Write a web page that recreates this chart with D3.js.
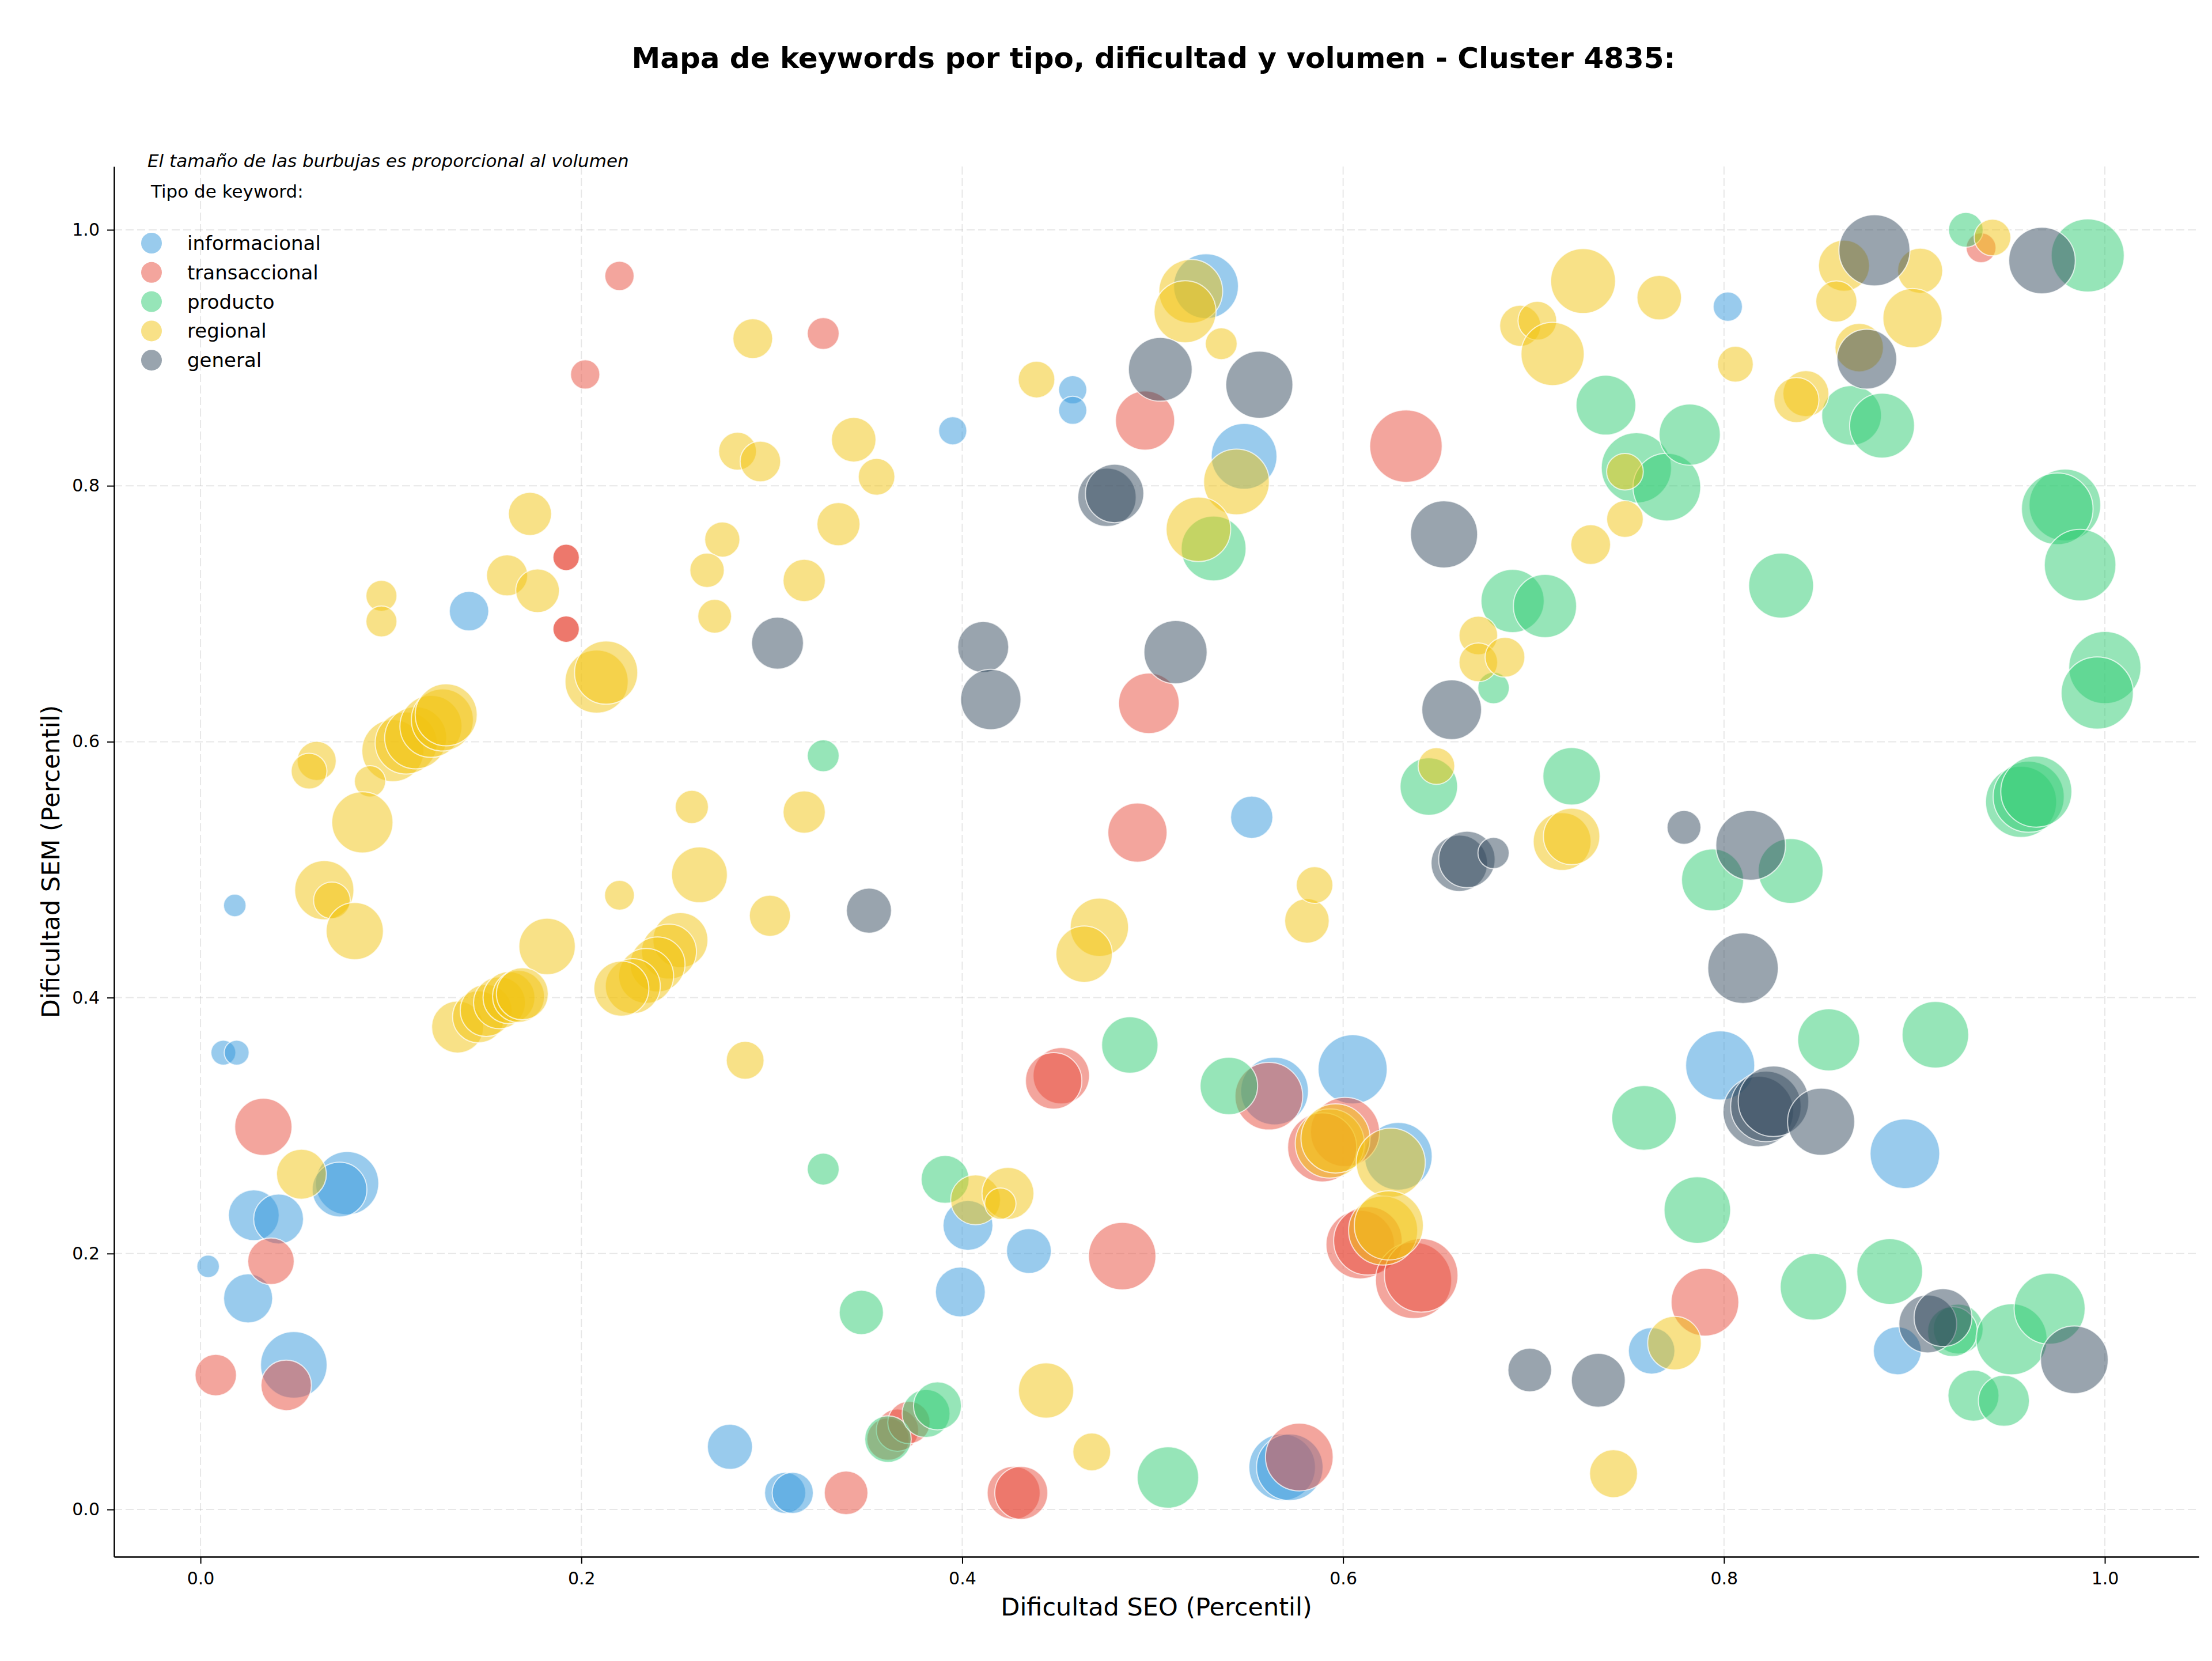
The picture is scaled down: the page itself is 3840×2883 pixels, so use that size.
<!DOCTYPE html>
<html>
<head>
<meta charset="utf-8">
<script src="https://cdn.jsdelivr.net/npm/d3@7"></script>
<style>
  html, body { margin: 0; padding: 0; background: #ffffff; }
  svg { display: block; }
  text { font-family: "DejaVu Sans", sans-serif; fill: #000; }
</style>
</head>
<body>
<script>
// ---------------- DATA ----------------
const chartTitle = "Mapa de keywords por tipo, dificultad y volumen - Cluster 4835:";
const xLabel = "Dificultad SEO (Percentil)";
const yLabel = "Dificultad SEM (Percentil)";
const noteText = "El tamaño de las burbujas es proporcional al volumen";
const legendTitle = "Tipo de keyword:";
const categories = ["informacional", "transaccional", "producto", "regional", "general"];
const categoryColors = ["#3498db", "#e74c3c", "#2ecc71", "#f1c40f", "#34495e"];
const xTicks = [0.0, 0.2, 0.4, 0.6, 0.8, 1.0];
const yTicks = [0.0, 0.2, 0.4, 0.6, 0.8, 1.0];

// [dificultad SEO, dificultad SEM, volumen]
const informacional = [
  [0.004,0.190,64],[0.018,0.472,64],[0.012,0.357,78],[0.019,0.357,78],
  [0.028,0.230,324],[0.041,0.227,313],[0.025,0.165,303],[0.049,0.113,557],
  [0.077,0.255,502],[0.073,0.250,376],[0.141,0.702,196],[0.395,0.843,100],
  [0.458,0.875,100],[0.458,0.859,100],[0.528,0.956,529],[0.548,0.823,543],
  [0.552,0.541,225],[0.278,0.049,256],[0.307,0.013,213],[0.311,0.013,213],
  [0.403,0.222,313],[0.435,0.202,253],[0.399,0.170,313],[0.568,0.033,557],
  [0.572,0.033,557],[0.605,0.344,600],[0.564,0.327,576],[0.629,0.276,576],
  [0.798,0.347,600],[0.895,0.278,610],[0.891,0.124,289],[0.762,0.124,272],
  [0.802,0.940,108]
];
const transaccional = [
  [0.220,0.964,108],[0.202,0.887,108],[0.192,0.744,88],[0.192,0.744,88],
  [0.192,0.688,88],[0.192,0.688,88],[0.327,0.919,128],[0.496,0.851,441],
  [0.498,0.630,462],[0.492,0.529,441],[0.633,0.831,660],[0.033,0.299,412],
  [0.037,0.194,272],[0.008,0.105,216],[0.045,0.097,320],[0.452,0.339,400],
  [0.448,0.335,400],[0.484,0.198,571],[0.339,0.013,240],[0.427,0.013,353],
  [0.431,0.013,353],[0.361,0.055,225],[0.366,0.062,225],[0.372,0.068,225],
  [0.561,0.323,576],[0.577,0.041,576],[0.601,0.295,600],[0.589,0.283,600],
  [0.609,0.207,590],[0.613,0.210,590],[0.637,0.179,730],[0.641,0.183,680],
  [0.790,0.162,576],[0.935,0.986,112]
];
const producto = [
  [0.327,0.589,128],[0.327,0.266,128],[0.347,0.154,246],[0.391,0.258,289],
  [0.488,0.363,400],[0.508,0.025,475],[0.540,0.331,416],[0.532,0.751,529],
  [0.679,0.642,125],[0.645,0.565,416],[0.720,0.573,416],[0.689,0.710,502],
  [0.706,0.706,502],[0.738,0.863,449],[0.754,0.814,620],[0.770,0.799,576],
  [0.782,0.840,471],[0.830,0.722,529],[0.867,0.855,449],[0.883,0.847,529],
  [0.927,1.000,151],[0.991,0.980,671],[0.979,0.785,645],[0.975,0.782,645],
  [0.987,0.738,645],[1.000,0.658,655],[0.996,0.638,655],[0.956,0.553,635],
  [0.960,0.557,635],[0.964,0.561,635],[0.794,0.492,484],[0.835,0.499,529],
  [0.855,0.367,484],[0.911,0.371,557],[0.758,0.306,524],[0.786,0.234,557],
  [0.847,0.174,557],[0.887,0.186,543],[0.923,0.141,313],[0.920,0.139,313],
  [0.951,0.133,635],[0.971,0.157,635],[0.931,0.089,328],[0.947,0.085,328],
  [0.361,0.055,272],[0.381,0.075,289],[0.387,0.081,289]
];
const regional = [
  [0.173,0.778,234],[0.095,0.714,121],[0.095,0.694,121],[0.161,0.730,213],
  [0.177,0.718,240],[0.208,0.647,502],[0.213,0.654,502],
  [0.101,0.593,484],[0.108,0.599,484],[0.113,0.603,484],[0.121,0.612,484],
  [0.127,0.617,484],[0.129,0.621,484],
  [0.061,0.585,193],[0.057,0.577,161],[0.089,0.569,123],[0.085,0.537,471],
  [0.065,0.484,441],[0.069,0.476,169],[0.081,0.452,412],[0.220,0.480,112],
  [0.182,0.440,400],
  [0.135,0.377,339],[0.146,0.385,339],[0.150,0.390,339],[0.157,0.396,339],
  [0.162,0.400,339],[0.167,0.401,339],[0.169,0.403,339],
  [0.252,0.445,380],[0.246,0.436,380],[0.240,0.426,380],[0.234,0.417,380],
  [0.227,0.409,380],[0.221,0.407,380],
  [0.262,0.496,392],[0.299,0.464,213],[0.286,0.351,180],[0.407,0.242,313],
  [0.424,0.247,339],[0.420,0.239,123],[0.444,0.093,384],[0.468,0.045,180],
  [0.472,0.455,428],[0.464,0.434,400],[0.290,0.915,199],[0.282,0.827,180],
  [0.294,0.819,207],[0.343,0.836,250],[0.355,0.807,169],[0.335,0.770,234],
  [0.274,0.758,156],[0.266,0.734,149],[0.317,0.726,225],[0.270,0.698,144],
  [0.258,0.549,139],[0.317,0.545,225],[0.439,0.883,169],[0.520,0.952,511],
  [0.517,0.936,484],[0.536,0.911,128],[0.544,0.803,543],[0.524,0.766,524],
  [0.726,0.960,529],[0.766,0.947,250],[0.693,0.925,213],[0.702,0.929,188],
  [0.710,0.903,502],[0.748,0.811,169],[0.748,0.774,169],[0.730,0.754,199],
  [0.671,0.683,188],[0.671,0.662,188],[0.685,0.666,199],[0.649,0.581,169],
  [0.715,0.522,420],[0.720,0.526,400],[0.863,0.972,328],[0.903,0.968,256],
  [0.859,0.944,213],[0.899,0.931,441],[0.871,0.908,296],[0.806,0.895,161],
  [0.843,0.872,266],[0.838,0.867,256],[0.941,0.994,169],[0.774,0.130,361],
  [0.742,0.028,289],[0.581,0.460,250],[0.585,0.488,169],[0.053,0.262,313],
  [0.593,0.286,600],[0.596,0.290,600],[0.625,0.271,600],[0.621,0.218,600],
  [0.624,0.222,600]
];
const general = [
  [0.303,0.677,339],[0.411,0.674,328],[0.415,0.633,458],[0.476,0.791,428],
  [0.480,0.794,428],[0.504,0.891,511],[0.556,0.879,566],[0.653,0.762,566],
  [0.512,0.670,502],[0.657,0.625,449],[0.661,0.505,400],[0.665,0.508,400],
  [0.679,0.513,123],[0.779,0.533,144],[0.814,0.519,610],[0.879,0.984,635],
  [0.875,0.899,449],[0.967,0.976,557],[0.810,0.423,625],[0.818,0.311,625],
  [0.822,0.315,625],[0.826,0.319,625],[0.851,0.303,566],[0.907,0.145,420],
  [0.915,0.150,420],[0.984,0.117,576],[0.698,0.109,240],[0.734,0.101,365],
  [0.351,0.468,256]
];
const seriesData = [informacional, transaccional, producto, regional, general];

// ---------------- LAYOUT ----------------
const W = 3840, H = 2883;
const plot = { left: 198, right: 3817, top: 289, bottom: 2702 };

const svg = d3.select("body").append("svg")
  .attr("width", W).attr("height", H)
  .attr("viewBox", `0 0 ${W} ${H}`);
svg.append("rect").attr("width", W).attr("height", H).attr("fill", "#ffffff");

const x = d3.scaleLinear().domain([-0.0454, 1.0493]).range([plot.left, plot.right]);
const y = d3.scaleLinear().domain([-0.0369, 1.0495]).range([plot.bottom, plot.top]);
const r = d3.scaleSqrt().domain([0, 1000]).range([0, 77.4]);
const color = d3.scaleOrdinal().domain(categories).range(categoryColors);

// grid
const grid = svg.append("g").attr("class", "grid");
grid.selectAll("line.vx").data(xTicks).join("line")
  .attr("x1", d => x(d)).attr("x2", d => x(d))
  .attr("y1", plot.top).attr("y2", plot.bottom)
  .attr("stroke", "#b0b0b0").attr("stroke-opacity", 0.3)
  .attr("stroke-width", 2).attr("stroke-dasharray", "14,6");
grid.selectAll("line.hy").data(yTicks).join("line")
  .attr("x1", plot.left).attr("x2", plot.right)
  .attr("y1", d => y(d)).attr("y2", d => y(d))
  .attr("stroke", "#b0b0b0").attr("stroke-opacity", 0.3)
  .attr("stroke-width", 2).attr("stroke-dasharray", "14,6");

// bubbles
const bubbles = svg.append("g").attr("class", "bubbles");
seriesData.forEach((arr, i) => {
  bubbles.append("g").selectAll("circle").data(arr).join("circle")
    .attr("cx", d => x(d[0]))
    .attr("cy", d => y(d[1]))
    .attr("r", d => r(d[2]))
    .attr("fill", color(categories[i]))
    .attr("fill-opacity", 0.5)
    .attr("stroke", "#ffffff")
    .attr("stroke-opacity", 0.7)
    .attr("stroke-width", 2);
});

// axes
const xAxis = svg.append("g")
  .attr("transform", `translate(0,${plot.bottom})`)
  .call(d3.axisBottom(x).tickValues(xTicks).tickFormat(d3.format(".1f"))
        .tickSize(12).tickSizeOuter(0).tickPadding(15));
const yAxis = svg.append("g")
  .attr("transform", `translate(${plot.left},0)`)
  .call(d3.axisLeft(y).tickValues(yTicks).tickFormat(d3.format(".1f"))
        .tickSize(12).tickSizeOuter(0).tickPadding(13));
[xAxis, yAxis].forEach(a => {
  a.select(".domain").attr("stroke", "#000").attr("stroke-width", 2.5);
  a.selectAll(".tick line").attr("stroke", "#000").attr("stroke-width", 2);
  a.selectAll(".tick text").attr("font-size", 30)
    .attr("font-family", "DejaVu Sans").attr("fill", "#000");
});

// axis labels
svg.append("text")
  .attr("x", (plot.left + plot.right) / 2).attr("y", 2804)
  .attr("text-anchor", "middle").attr("font-size", 43)
  .text(xLabel);
svg.append("text")
  .attr("transform", `translate(103,${(plot.top + plot.bottom) / 2}) rotate(-90)`)
  .attr("text-anchor", "middle").attr("font-size", 43)
  .text(yLabel);

// title
svg.append("text")
  .attr("x", (plot.left + plot.right) / 2 - 5).attr("y", 118)
  .attr("text-anchor", "middle").attr("font-size", 50).attr("font-weight", "bold")
  .text(chartTitle);

// note + legend
svg.append("text")
  .attr("x", 256).attr("y", 290)
  .attr("font-size", 31).attr("font-style", "italic")
  .text(noteText);
svg.append("text")
  .attr("x", 262).attr("y", 343)
  .attr("font-size", 31)
  .text(legendTitle);
const legend = svg.append("g").selectAll("g").data(categories).join("g")
  .attr("transform", (d, i) => `translate(0,${422 + i * 50.8})`);
legend.append("circle")
  .attr("cx", 263).attr("cy", 0).attr("r", 18)
  .attr("fill", d => color(d)).attr("fill-opacity", 0.5);
legend.append("text")
  .attr("x", 325).attr("y", 0).attr("dy", "0.35em")
  .attr("font-size", 34)
  .text(d => d);
</script>
</body>
</html>
